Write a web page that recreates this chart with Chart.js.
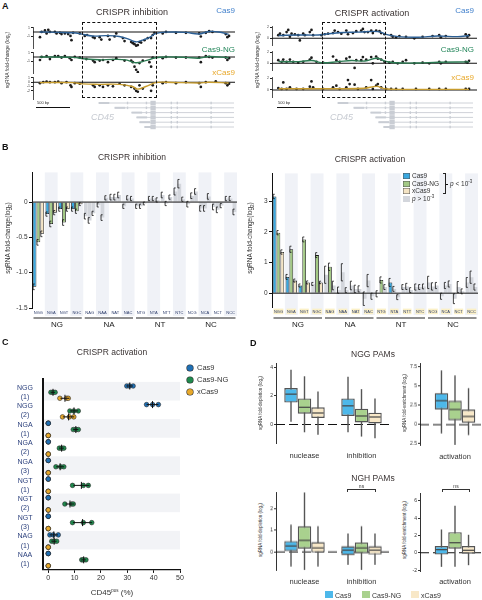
<!DOCTYPE html>
<html>
<head>
<meta charset="utf-8">
<script src="https://cdn.jsdelivr.net/npm/chart.js"></script>
<style>
  html, body { margin: 0; padding: 0; overflow: hidden; background: #fff; }
  body { position: relative; width: 482px; height: 600px; font-family: 'Liberation Sans', Arial, sans-serif; color: #333; }
  canvas { position: absolute; }
  .t { position: absolute; white-space: nowrap; line-height: 1; }
  .dbox { position: absolute; border: 1.2px dashed #111; box-sizing: border-box; }
  .ln { position: absolute; background: #111; }
  .sq { position: absolute; }
</style>
</head>
<body>
<script>
// ---------- Panel A: CD45 tiling screens (position in bp, log2 fold-change) ----------
const inhCas9Pts = [[105,-1.26],[130,0],[180,0.37],[205,-0.37],[230,0.52],[255,0],[330,0],[355,-0.37],[405,-0.22],[430,-0.52],[480,-0.37],[530,-0.52],[565,-0.96],[580,-2.0],[605,-0.22],[705,-0.37],[780,-0.96],[815,-0.74],[905,-1.26],[930,-1.48],[1005,-1.26],[1030,-1.85],[1130,-0.96],[1155,-1.85],[1230,-1.11],[1255,-0.37],[1355,-1.48],[1380,-2.22],[1480,-2.44],[1505,-2.74],[1530,-2.96],[1555,-3.33],[1580,-3.19],[1605,-2.44],[1630,-2.59],[1680,-2.0],[1730,-1.48],[1780,-1.48],[1805,-0.74],[1830,-0.22],[1955,-0.37],[2005,0],[2155,-0.22],[2305,-0.22],[2505,-0.37],[2530,-1.11],[2605,-0.22],[2655,0.22],[2705,0],[2905,-0.52],[2930,-1.26],[2955,-0.96]];
const inhCas9Fit = [[100,0],[400,-0.1],[600,-0.2],[700,-0.4],[900,-1.0],[1100,-0.9],[1300,-1.1],[1450,-1.8],[1550,-2.4],[1650,-2.0],[1750,-1.4],[1850,-0.4],[2000,-0.05],[2300,-0.1],[2500,-0.5],[2650,0.1],[2800,0],[2950,-0.6]];
const inhNGPts = [[105,-0.74],[130,0],[205,0.22],[255,-0.52],[330,0.22],[380,0.22],[430,-0.15],[480,0.22],[555,-0.3],[580,-0.74],[630,0],[705,-0.15],[805,-0.52],[905,-0.89],[930,-1.26],[1005,-0.89],[1055,-0.74],[1130,-1.26],[1205,-0.74],[1255,-0.3],[1380,-0.89],[1480,-0.89],[1505,-1.26],[1530,-2.37],[1555,-3.11],[1580,-3.7],[1605,-1.48],[1655,-0.89],[1755,-1.26],[1780,-2.37],[1805,-0.15],[1955,-0.3],[2005,0],[2155,-0.15],[2305,-0.15],[2505,-0.15],[2530,-1.26],[2605,0.22],[2655,0],[2705,-0.15],[2905,-0.15],[2930,-0.74],[2955,-0.3]];
const inhNGFit = [[100,0],[600,-0.1],[800,-0.5],[1000,-0.7],[1200,-0.6],[1400,-0.7],[1550,-1.4],[1700,-0.9],[1850,-0.2],[2000,0],[2300,-0.1],[2500,-0.3],[2650,0.1],[2950,-0.2]];
const inhXPts = [[105,-0.22],[155,0],[205,0.15],[255,0],[330,0],[380,0.15],[430,-0.22],[505,0],[565,-0.74],[580,-1.11],[630,-0.22],[705,-0.37],[905,-0.74],[930,-1.11],[1005,-0.74],[1055,-1.11],[1130,-0.74],[1205,-0.96],[1305,-0.37],[1380,-0.74],[1480,-1.11],[1530,-1.48],[1555,-2.0],[1580,-2.22],[1605,-0.74],[1655,-1.48],[1780,-2.0],[1805,-0.74],[1955,-0.22],[2005,0],[2155,-0.22],[2305,0],[2505,-0.22],[2530,-1.11],[2605,0],[2755,0.22],[2905,-0.22],[2930,-0.74],[2955,-0.37]];
const inhXFit = [[100,-0.1],[600,-0.1],[750,-0.4],[1000,-0.5],[1300,-0.5],[1500,-1.0],[1580,-1.6],[1700,-1.0],[1850,-0.1],[2000,0],[2500,-0.2],[2650,0],[2950,-0.2]];

const actCas9Pts = [[95,0.56],[120,0.83],[170,0.56],[220,1.11],[245,1.5],[270,0.28],[295,0.83],[345,0.72],[395,0.56],[420,-0.39],[470,0.83],[495,0.56],[570,1.11],[595,1.5],[620,0.56],[745,0.56],[795,0.72],[845,0.83],[920,0.94],[945,1.39],[995,1.11],[1045,0.83],[1120,1.39],[1145,0.72],[1220,0.94],[1270,1.28],[1345,1.39],[1370,1.67],[1395,1.11],[1445,1.11],[1495,1.39],[1520,0.94],[1570,1.39],[1620,1.28],[1645,0.94],[1695,0.72],[1795,0.56],[1820,0.28],[1870,0.17],[1920,0.39],[2020,0.28],[2145,0],[2270,0.28],[2420,0.39],[2520,0.56],[2545,0.17],[2620,0.39],[2920,0.72],[2945,0.28],[2970,0.56]];
const actCas9Fit = [[100,0.5],[400,0.6],[700,0.6],[1000,1.0],[1300,1.1],[1600,1.2],[1750,0.6],[1900,0.3],[2200,0.2],[2500,0.4],[2800,0.3],[2970,0.5]];
const actNGPts = [[95,0.56],[145,0.28],[170,0.67],[220,0.28],[270,0.67],[320,0.28],[395,0.11],[470,0.28],[570,0.67],[595,1.0],[670,0.28],[770,0.11],[920,1.22],[970,0.56],[1020,0.28],[1120,0.83],[1170,1.11],[1245,-0.83],[1270,0.56],[1345,0.56],[1370,1.11],[1420,0.67],[1495,1.11],[1520,0],[1570,1.22],[1595,0.83],[1645,0.67],[1695,0.28],[1770,0.11],[1820,0.28],[1895,0],[1970,0.28],[2020,0.56],[2145,0],[2270,0.11],[2370,0],[2520,0.28],[2545,0],[2620,0.28],[2920,0.28],[2945,0.11],[2970,0.44]];
const actNGFit = [[100,0.3],[400,0.3],[600,0.5],[750,0.1],[1000,0.3],[1200,0.5],[1400,0.4],[1580,0.9],[1700,0.4],[1850,0.1],[2200,0.05],[2500,0.2],[2970,0.25]];
const actXPts = [[95,0.33],[145,0.17],[170,1.28],[220,0.17],[270,0.44],[370,0.17],[470,0.17],[570,0.56],[595,1.44],[620,0.44],[770,0.17],[920,0.44],[970,0.72],[1020,0.17],[1120,0.44],[1145,1.67],[1170,1.0],[1245,0.89],[1295,0.17],[1420,0.44],[1495,1.67],[1520,0.17],[1570,0.72],[1595,1.0],[1645,0.44],[1720,0.17],[1795,0.17],[1870,0.17],[1970,0.17],[2170,0.17],[2370,0.17],[2520,0.17],[2620,0.17],[2920,0.17],[2970,0.17]];
const actXFit = [[100,0.2],[600,0.2],[1000,0.2],[1400,0.3],[1580,0.6],[1700,0.2],[2000,0.1],[2970,0.1]];

const inhTicksA = [1, 0, -1, -2];
const actTicksA = [2, 1, 0, -1];

// CD45 gene model (bp)
const geneTxStart = [990, 1230, 1485, 1560, 1605, 1680];
const geneTxEnd = 3030;
const geneFirstExon = 160;
const geneExons = [1425, 1710, 2085, 2175, 2685];
const geneBlock = [1770, 1850];

// ---------- Panel B: PAM bar charts ----------
const pams = ['NGG','NGA','NGT','NGC','NAG','NAA','NAT','NAC','NTG','NTA','NTT','NTC','NCG','NCA','NCT','NCC'];
const pamGroups = ['NG', 'NA', 'NT', 'NC'];

const inhCas9 = [-1.2,-0.17,-0.1,-0.1,-0.2,-0.04,0.07,-0.06,-0.06,0.05,0.1,0.15,-0.03,-0.09,-0.07,0.05];
const inhNG   = [-0.57,-0.31,-0.29,-0.13,-0.26,-0.22,0.07,0.06,-0.06,0.05,-0.02,0.26,0.09,-0.09,-0.11,0.05];
const inhX    = [-0.45,-0.15,-0.1,-0.03,-0.16,0.06,0.1,0.05,-0.02,0.03,0.07,0.04,0.15,0.08,-0.05,-0.14];
const inhCas9Err = [0.04,0.03,0.03,0.03,0.04,0.03,0.04,0.03,0.03,0.03,0.04,0.05,0.04,0.04,0.04,0.03];
const inhNGErr   = [0.04,0.04,0.04,0.03,0.04,0.04,0.04,0.03,0.03,0.03,0.03,0.06,0.04,0.04,0.04,0.03];
const inhXErr    = [0.04,0.03,0.03,0.02,0.03,0.03,0.04,0.03,0.02,0.03,0.03,0.03,0.04,0.04,0.03,0.04];
const inhCas9Sig = [1,1,1,1,0,0,0,0,0,0,0,0,0,0,0,0];
const inhNGSig   = [1,1,1,1,0,0,0,0,0,0,0,0,0,0,0,0];
const inhXSig    = [1,1,1,1,0,0,0,0,0,0,0,0,0,0,0,0];

const actCas9 = [3.15,0.53,0.25,0.3,0.6,0.1,0.25,-0.18,-0.02,0.35,0.2,0.2,0.35,-0.1,-0.18,0.35];
const actNG   = [1.97,1.43,1.75,1.24,0.86,0.68,0.14,0.41,0.43,0.14,0.22,0.2,0.22,0.25,0.2,0.52];
const actX    = [1.34,0.41,0.35,0.35,0.25,0.1,0.14,-0.1,0.2,-0.13,0.1,0.22,0.25,0.3,0.06,0.2];
const actCas9Err = [0.07,0.08,0.05,0.05,0.28,0.1,0.14,0.22,0.1,0.13,0.08,0.1,0.2,0.1,0.16,0.16];
const actNGErr   = [0.07,0.1,0.08,0.08,0.12,0.28,0.12,0.2,0.1,0.08,0.1,0.08,0.12,0.1,0.18,0.2];
const actXErr    = [0.07,0.05,0.05,0.04,0.14,0.08,0.1,0.1,0.08,0.08,0.08,0.08,0.1,0.1,0.08,0.1];
const actCas9Sig = [1,1,1,0,0,0,0,0,0,1,0,0,0,0,0,0];
const actNGSig   = [1,1,1,1,1,0,0,0,1,0,0,0,0,0,0,0];
const actXSig    = [1,1,1,1,0,0,0,0,0,0,0,0,0,0,0,0];

const inhTicksB = [-1.5, -1.0, -0.5, 0];
const actTicksB = [0, 1, 2, 3];

// ---------- Panel C: CD45 activation by individual sgRNAs (% CD45 pos) ----------
const cRows = [['NGG','(1)'],['NGG','(2)'],['NGA','(1)'],['NGA','(2)'],['NGA','(3)'],['NGT','(1)'],['NGT','(2)'],['NGT','(3)'],['NAG','(1)'],['NAA','(1)']];
const cCas9 = [[29.8,30.8,32.2],[37.3,39.6,41.8],[0,0,0],[0,0,0],[0,0,0],[0,0,0],[0,0,0],[0,0,0],[0.6,1.9,3.8],[0,0,0]];
const cNG   = [[1,1.8,2.6],[8.2,9.7,11.4],[9.5,10.5,11.4],[4.2,5.1,5.9],[2.9,4.7,5.9],[9.2,13.3,15.2],[6.3,8.9,9.5],[9.2,13.3,16.5],[1.3,2.2,3.2],[12.7,13.3,14.3]];
const cX    = [[4.4,7,7.6],[5.4,8,9.7],[0,0,0],[0,0,0],[0,0,0],[0,0,0],[0,0,0],[0,0,0],[0,0,0],[0,0,0]];
const cTicks = [0, 10, 20, 30, 40, 50];

// ---------- Panel D: box plots [min, q1, median, q3, max] ----------
const dGroups = ['nuclease', 'inhibition'];
const dGroupAct = ['activation'];
const nggDepCas9 = [[0.18,1.53,2.12,2.55,3.83],[-0.55,0.59,1.3,1.82,3.33]];
const nggDepNG   = [[-0.55,0.75,1.2,1.82,3.37],[-0.85,0.14,0.59,1.1,2.47]];
const nggDepX    = [[-0.73,0.45,0.8,1.2,2.3],[-0.96,0.07,0.52,0.82,1.82]];
const nggEnrCas9 = [[-1.15,1.96,3.1,4.1,7.04]];
const nggEnrNG   = [[-2.65,0.55,1.96,3.1,6.4]];
const nggEnrX    = [[-1.37,0.25,1.06,1.96,4.74]];
const nghDepCas9 = [[-0.68,0.03,0.27,0.5,1.25],[-0.6,-0.15,0.08,0.26,0.85]];
const nghDepNG   = [[-0.83,0.15,0.53,1.18,2.73],[-0.83,-0.07,0.18,0.43,1.18]];
const nghDepX    = [[-0.68,-0.03,0.18,0.45,1.18],[-0.6,-0.12,0.08,0.26,0.85]];
const nghEnrCas9 = [[-1.62,-0.2,0.36,0.78,2.69]];
const nghEnrNG   = [[-1.62,0.47,1.16,2.38,5.43]];
const nghEnrX    = [[-1.43,-0.1,0.29,0.78,2.08]];
const dTicksNggDep = [0, 2, 4];
const dTicksNggEnr = [-2.5, 0, 2.5, 5, 7.5];
const dTicksNghDep = [0, 1, 2];
const dTicksNghEnr = [-2, 0, 2, 4, 6];

// ---------- colours ----------
const colA = { cas9: '#2c5f94', ng: '#2b7a52', x: '#c79c2e' };
const colLabA = { cas9: '#3f7fcb', ng: '#23865a', x: '#e8a82a' };
const colB = { cas9: '#3aa8df', ng: '#a3c985', x: '#f4e4c4', gray: '#d3d6dc' };
const colC = { cas9: '#2070b4', ng: '#1f8a4d', x: '#e8a92b' };
const colD = { cas9: '#4db8ea', ng: '#a9d18e', x: '#f8e8c8' };

Chart.defaults.font.family = "'Liberation Sans', Arial, sans-serif";
Chart.defaults.color = '#333';
Chart.defaults.plugins.legend.display = false;
Chart.defaults.plugins.tooltip.enabled = false;

// place a chart so that its chart area lands on [x0,y0,x1,y1] of the page
function place(area, pad, cfg) {
  const [x0, y0, x1, y1] = area.map(Math.round);
  const w = x1 - x0 + pad[0] + pad[2];
  const h = y1 - y0 + pad[1] + pad[3];
  const cv = document.createElement('canvas');
  cv.width = w; cv.height = h;
  cv.style.left = (x0 - pad[0]) + 'px';
  cv.style.top = (y0 - pad[1]) + 'px';
  cv.style.width = w + 'px';
  cv.style.height = h + 'px';
  document.body.appendChild(cv);
  const o = cfg.options;
  o.responsive = false; o.animation = false; o.devicePixelRatio = 1; o.events = [];
  const xs = o.scales.x, ys = o.scales.y;
  o.layout = { padding: {
    left: ys.display === false ? pad[0] : 0, top: pad[1], right: pad[2],
    bottom: xs.display === false ? pad[3] : 0 } };
  if (xs.display !== false) xs.afterFit = s => { s.height = pad[3]; };
  if (ys.display !== false) ys.afterFit = s => { s.width = pad[0]; };
  return new Chart(cv, cfg);
}

function txt(html, x, y, css, anchor, rot) {
  const d = document.createElement('div');
  d.className = 't';
  d.innerHTML = html;
  d.style.cssText = `left:${x}px;top:${y}px;` + (css || '');
  const tx = { l: '0', c: '-50%', r: '-100%' }[anchor || 'l'];
  d.style.transform = `translate(${tx},-50%)` + (rot ? ' rotate(-90deg)' : '');
  document.body.appendChild(d);
}
function el(cls, x, y, w, h, css) {
  const d = document.createElement('div');
  d.className = cls;
  d.style.cssText = `left:${x}px;top:${y}px;width:${w}px;height:${h}px;` + (css || '');
  document.body.appendChild(d);
}
const fixTicks = arr => s => { s.ticks = arr.map(v => ({ value: v })); };

// horizontal line at y = 0
function zeroLine(dash, width, after) {
  const draw = c => {
    const ctx = c.ctx, a = c.chartArea, y = c.scales.y.getPixelForValue(0);
    ctx.save();
    ctx.strokeStyle = '#111'; ctx.lineWidth = width; ctx.setLineDash(dash);
    ctx.beginPath(); ctx.moveTo(a.left, y); ctx.lineTo(a.right, y); ctx.stroke();
    ctx.restore();
  };
  return after ? { id: 'zeroA', afterDatasetsDraw: draw } : { id: 'zeroB', beforeDatasetsDraw: draw };
}

// ---------- Panel A ----------
const genePlugin = {
  id: 'gene',
  afterDraw(c) {
    const ctx = c.ctx, x = c.scales.x;
    const top = 103 - parseFloat(c.canvas.style.top);
    const px = v => x.getPixelForValue(v);
    ctx.save();
    ctx.fillStyle = ctx.strokeStyle = '#c9cdd4';
    geneTxStart.forEach((s, i) => {
      const y = top + i * 4.8;
      ctx.lineWidth = 0.9;
      ctx.beginPath(); ctx.moveTo(px(s), y); ctx.lineTo(px(geneTxEnd), y); ctx.stroke();
      ctx.fillRect(px(s), y - 1, px(s + geneFirstExon) - px(s), 2);
      geneExons.filter(e => e > s + geneFirstExon).forEach(e => ctx.fillRect(px(e) - 0.7, y - 1.3, 1.4, 2.6));
      ctx.fillRect(px(geneBlock[0]), y - 2.2, px(geneBlock[1]) - px(geneBlock[0]), 4.4);
    });
    ctx.restore();
  }
};

function rowChart(area, padB, pts, fit, color, yMin, yMax, ticks, xMax, extra) {
  return place(area, [10, 3, 3, padB], {
    type: 'scatter',
    data: { datasets: [
      { data: fit, showLine: true, borderColor: color, borderWidth: 1.4, pointRadius: 0, tension: 0.4, order: 0 },
      { data: pts, pointRadius: 1.35, backgroundColor: '#1b1b1b', borderWidth: 0, order: 1 }
    ] },
    options: {
      scales: {
        x: { type: 'linear', display: false, min: 0, max: xMax },
        y: { type: 'linear', min: yMin, max: yMax, afterBuildTicks: fixTicks(ticks),
             border: { color: '#222', width: 0.8 },
             grid: { drawOnChartArea: false, tickLength: 2, color: '#222' },
             ticks: { font: { size: 3.5 }, padding: 1, color: '#444' } }
      }
    },
    plugins: [zeroLine([], 1.1, false)].concat(extra || [])
  });
}

// left (inhibition): 4.5 px per log2 unit
rowChart([33, 26.3, 236, 49.2], 3, inhCas9Pts, inhCas9Fit, colA.cas9, -3.9, 1.2, inhTicksA, 3045);
rowChart([33, 50.6, 236, 73.6], 3, inhNGPts, inhNGFit, colA.ng, -3.9, 1.2, inhTicksA, 3045);
rowChart([33, 76.3, 236, 99.3], 34, inhXPts, inhXFit, colA.x, -3.9, 1.2, inhTicksA, 3045, [genePlugin]);
// right (activation): 6 px per log2 unit
rowChart([272, 25.3, 478, 45.7], 3, actCas9Pts, actCas9Fit, colA.cas9, -1.2, 2.2, actTicksA, 3090);
rowChart([272, 50.1, 478, 70.5], 3, actNGPts, actNGFit, colA.ng, -1.2, 2.2, actTicksA, 3090);
rowChart([272, 76.1, 478, 96.5], 36, actXPts, actXFit, colA.x, -1.2, 2.2, actTicksA, 3090, [genePlugin]);

txt('A', 2, 6, 'font-size:9px;font-weight:bold;color:#111;');
txt('CRISPR inhibition', 132, 12, 'font-size:9px;color:#3a3333;', 'c');
txt('CRISPR activation', 372, 13, 'font-size:9px;color:#3a3333;', 'c');
txt('Cas9', 235, 11, `font-size:8px;color:${colLabA.cas9};`, 'r');
txt('Cas9-NG', 235, 50, `font-size:8px;color:${colLabA.ng};`, 'r');
txt('xCas9', 235, 73, `font-size:8px;color:${colLabA.x};`, 'r');
txt('Cas9', 474, 11, `font-size:8px;color:${colLabA.cas9};`, 'r');
txt('Cas9-NG', 474, 50, `font-size:8px;color:${colLabA.ng};`, 'r');
txt('xCas9', 474, 78, `font-size:8px;color:${colLabA.x};`, 'r');
txt('sgRNA fold-change (log<sub style="font-size:3.5px">2</sub>)', 9, 60, 'font-size:5px;color:#333;', 'c', true);
txt('sgRNA fold-change (log<sub style="font-size:3.5px">2</sub>)', 259, 60, 'font-size:5px;color:#333;', 'c', true);
el('dbox', 82, 22, 75, 76);
el('dbox', 322, 22, 64, 76);
el('ln', 36, 107, 34, 1.2);
el('ln', 277, 107, 34, 1.2);
txt('500 bp', 37, 103, 'font-size:4px;color:#333;');
txt('500 bp', 278, 103, 'font-size:4px;color:#333;');
txt('CD45', 91, 117, 'font-size:9px;font-style:italic;color:#c6cad1;');
txt('CD45', 330, 117, 'font-size:9px;font-style:italic;color:#c6cad1;');

// ---------- Panel B ----------
const bandsB = {
  id: 'bandsB',
  beforeDraw(c) {
    const ctx = c.ctx, a = c.chartArea, x = c.scales.x;
    const cw = (a.right - a.left) / pams.length;
    ctx.save(); ctx.fillStyle = '#f0f2f7';
    pams.forEach((p, i) => { if (i % 2) ctx.fillRect(x.getPixelForValue(i) - cw / 2, a.top, cw, a.bottom - a.top + 8); });
    ctx.restore();
  }
};
const errBars = {
  id: 'errBars',
  afterDatasetsDraw(c) {
    const ctx = c.ctx, y = c.scales.y;
    ctx.save(); ctx.strokeStyle = '#111'; ctx.lineWidth = 0.8;
    c.data.datasets.forEach((ds, di) => {
      c.getDatasetMeta(di).data.forEach((bar, i) => {
        const v = ds.data[i], e = ds.err[i];
        const ya = y.getPixelForValue(v - e), yb = y.getPixelForValue(v + e);
        const xl = bar.x - bar.width / 2 + 0.4;
        ctx.beginPath();
        ctx.moveTo(xl + 1.6, ya); ctx.lineTo(xl, ya); ctx.lineTo(xl, yb); ctx.lineTo(xl + 1.6, yb);
        ctx.stroke();
      });
    });
    ctx.restore();
  }
};
const groupLines = {
  id: 'groupLines',
  afterDraw(c) {
    const ctx = c.ctx, a = c.chartArea, x = c.scales.x;
    const cw = (a.right - a.left) / pams.length;
    const y = 318 - parseFloat(c.canvas.style.top);
    ctx.save(); ctx.strokeStyle = '#222'; ctx.lineWidth = 1.1;
    pamGroups.forEach((g, k) => {
      const l = x.getPixelForValue(k * 4) - cw / 2 + 1.5, r = x.getPixelForValue(k * 4 + 3) + cw / 2 - 1.5;
      ctx.beginPath(); ctx.moveTo(l, y); ctx.lineTo(r, y); ctx.stroke();
    });
    ctx.restore();
  }
};

function pamChart(area, series, yMin, yMax, ticks, fmt, backdrop) {
  return place(area, [32, 4, 4, 16], {
    type: 'bar',
    data: {
      labels: pams,
      datasets: series.map(s => ({
        data: s.v, err: s.e,
        backgroundColor: s.v.map((_, i) => s.sig[i] ? s.col : colB.gray),
        borderColor: '#111',
        borderWidth: s.v.map((_, i) => s.sig[i] ? 0.8 : 0),
        categoryPercentage: 0.9, barPercentage: 0.96
      }))
    },
    options: {
      scales: {
        x: { grid: { display: false, drawTicks: false }, border: { display: false },
             ticks: { font: { size: 4 }, padding: 2, color: '#2b3b6a', autoSkip: false, maxRotation: 0,
                      showLabelBackdrop: backdrop, backdropColor: '#fbf0c6', backdropPadding: 0.4 } },
        y: { min: yMin, max: yMax, afterBuildTicks: fixTicks(ticks),
             border: { color: '#111', width: 1 },
             grid: { drawOnChartArea: false, tickLength: 3, color: '#111' },
             ticks: { font: { size: 6.5 }, padding: 1.5, color: '#333', callback: fmt } }
      }
    },
    plugins: [bandsB, zeroLine([], 1, true), errBars, groupLines]
  });
}

pamChart([32, 171, 237, 307.7], [
  { v: inhCas9, e: inhCas9Err, sig: inhCas9Sig, col: colB.cas9 },
  { v: inhNG, e: inhNGErr, sig: inhNGSig, col: colB.ng },
  { v: inhX, e: inhXErr, sig: inhXSig, col: colB.x }
], -1.5, 0.42, inhTicksB, v => v === 0 ? '0' : v.toFixed(1), false);

pamChart([272, 172, 478, 306.7], [
  { v: actCas9, e: actCas9Err, sig: actCas9Sig, col: colB.cas9 },
  { v: actNG, e: actNGErr, sig: actNGSig, col: colB.ng },
  { v: actX, e: actXErr, sig: actXSig, col: colB.x }
], -0.45, 3.9, actTicksB, v => String(v), true);

txt('B', 2, 147, 'font-size:9px;font-weight:bold;color:#111;');
txt('CRISPR inhibition', 132, 157, 'font-size:8.5px;color:#3a3333;', 'c');
txt('CRISPR activation', 370, 159, 'font-size:8.5px;color:#3a3333;', 'c');
txt('sgRNA fold-change(log<sub style="font-size:4.5px">2</sub>)', 9, 238, 'font-size:6.5px;color:#333;', 'c', true);
txt('sgRNA fold-change(log<sub style="font-size:4.5px">2</sub>)', 251, 238, 'font-size:6.5px;color:#333;', 'c', true);
[[57, 109, 160, 211], [298, 350, 401, 453]].forEach(xs => {
  pamGroups.forEach((g, k) => txt(g, xs[k], 325, 'font-size:8px;color:#222;', 'c'));
});
// legend of panel B (activation)
[[colB.cas9, 'Cas9', 176], [colB.ng, 'Cas9-NG', 183.5], [colB.x, 'xCas9', 191], [colB.gray, '<i>p</i> &gt; 10<sup style="font-size:4.5px">-3</sup>', 198.5]]
  .forEach(([c, l, y], i) => {
    el('sq', 403, y - 3, 7, 6, `background:${c};` + (i < 3 ? 'box-shadow:inset 0 0 0 0.5px #555;' : ''));
    txt(l, 412, y, 'font-size:6.5px;color:#333;');
  });
el('sq', 443, 173, 3, 21, 'border:0.8px solid #222;border-left:none;box-sizing:border-box;');
el('ln', 446, 183.5, 2, 0.8);
txt('<i>p</i> &lt; 10<sup style="font-size:4.5px">-3</sup>', 450, 184, 'font-size:6.5px;color:#333;');

// ---------- Panel C ----------
const cOff = [0.22, 0.56, 0.88];
const bandsC = {
  id: 'bandsC',
  beforeDraw(c) {
    const ctx = c.ctx, a = c.chartArea, y = c.scales.y;
    ctx.save(); ctx.fillStyle = '#f2f3f6';
    cRows.forEach((r, i) => {
      if (i % 2 === 0) { const t = y.getPixelForValue(i); ctx.fillRect(a.left, t, a.right - a.left, y.getPixelForValue(i + 1) - t); }
    });
    ctx.restore();
  }
};
const meanSD = {
  id: 'meanSD',
  afterDatasetsDraw(c) {
    const ctx = c.ctx, x = c.scales.x, y = c.scales.y;
    ctx.save(); ctx.strokeStyle = '#111'; ctx.lineWidth = 1;
    [cCas9, cNG, cX].forEach((ser, k) => {
      ser.forEach((reps, i) => {
        const m = reps.reduce((s, v) => s + v, 0) / reps.length;
        const sd = Math.sqrt(reps.reduce((s, v) => s + (v - m) ** 2, 0) / (reps.length - 1));
        if (sd === 0) return;
        const yy = y.getPixelForValue(i + cOff[k]);
        ctx.beginPath();
        ctx.moveTo(x.getPixelForValue(m - sd), yy); ctx.lineTo(x.getPixelForValue(m + sd), yy);
        ctx.moveTo(x.getPixelForValue(m), yy - 3.5); ctx.lineTo(x.getPixelForValue(m), yy + 3.5);
        ctx.stroke();
      });
    });
    ctx.restore();
  }
};
place([43, 362.9, 180, 575], [43, 3, 8, 14], {
  type: 'scatter',
  data: { datasets: [[cCas9, colC.cas9], [cNG, colC.ng], [cX, colC.x]].map(([ser, col], k) => ({
    data: ser.flatMap((reps, i) => reps.map(v => ({ x: v, y: i + cOff[k] }))),
    backgroundColor: col, borderColor: '#2a2a2a', borderWidth: 0.6, pointRadius: 2.3
  })) },
  options: {
    scales: {
      x: { type: 'linear', min: -2, max: 50, afterBuildTicks: fixTicks(cTicks),
           border: { color: '#111', width: 1.3 },
           grid: { drawOnChartArea: false, tickLength: 3, color: '#111' },
           ticks: { font: { size: 7 }, padding: 1, color: '#333' } },
      y: { type: 'linear', reverse: true, min: -0.15, max: 10.1,
           afterBuildTicks: s => { s.ticks = cRows.map((r, i) => ({ value: i + 0.55 })); },
           border: { color: '#111', width: 2 },
           grid: { display: false, drawTicks: false },
           ticks: { callback: (v, i) => cRows[i], font: { size: 7, lineHeight: 1.3 }, color: '#2a3f7c',
                    crossAlign: 'center', padding: 10 } }
    }
  },
  plugins: [bandsC, meanSD]
});
txt('C', 2, 342, 'font-size:9px;font-weight:bold;color:#111;');
txt('CRISPR activation', 112, 352, 'font-size:8.5px;color:#3a3333;', 'c');
txt('CD45<sup style="font-size:4.5px">pos</sup> (%)', 112, 593, 'font-size:8px;color:#333;', 'c');
[[colC.cas9, 'Cas9', 368], [colC.ng, 'Cas9-NG', 380], [colC.x, 'xCas9', 392]].forEach(([c, l, y]) => {
  el('sq', 187, y - 3.2, 6.4, 6.4, `background:${c};border-radius:50%;box-shadow:0 0 0 0.6px #2a2a2a;`);
  txt(l, 197, y, 'font-size:7.5px;color:#333;');
});

// ---------- Panel D ----------
const whiskers = {
  id: 'whiskers',
  beforeDatasetsDraw(c) {
    const ctx = c.ctx, y = c.scales.y;
    ctx.save(); ctx.strokeStyle = '#555'; ctx.lineWidth = 1.4;
    c.data.datasets.forEach((ds, di) => {
      c.getDatasetMeta(di).data.forEach((bar, i) => {
        const s = ds.stats[i];
        ctx.beginPath();
        ctx.moveTo(bar.x, y.getPixelForValue(s[4])); ctx.lineTo(bar.x, y.getPixelForValue(s[0]));
        ctx.stroke();
      });
    });
    ctx.restore();
  },
  afterDatasetsDraw(c) {
    const ctx = c.ctx, y = c.scales.y;
    ctx.save(); ctx.strokeStyle = '#444'; ctx.lineWidth = 1.2;
    c.data.datasets.forEach((ds, di) => {
      c.getDatasetMeta(di).data.forEach((bar, i) => {
        const m = y.getPixelForValue(ds.stats[i][2]), h = bar.width / 2 - 1;
        ctx.beginPath(); ctx.moveTo(bar.x - h, m); ctx.lineTo(bar.x + h, m); ctx.stroke();
      });
    });
    ctx.restore();
  }
};
function boxChart(area, labels, series, yMin, yMax, ticks, catPct, lblPad) {
  return place(area, [10, 3, 3, lblPad + 10], {
    type: 'bar',
    data: { labels, datasets: series.map(([st, col]) => ({
      data: st.map(q => [q[1], q[3]]), stats: st,
      backgroundColor: col, borderColor: '#555', borderWidth: 1.4, borderSkipped: false,
      categoryPercentage: catPct, barPercentage: 1
    })) },
    options: {
      scales: {
        x: { grid: { display: false, drawTicks: false }, border: { display: false },
             ticks: { font: { size: 7.5 }, padding: lblPad, color: '#333', autoSkip: false, maxRotation: 0 } },
        y: { min: yMin, max: yMax, afterBuildTicks: fixTicks(ticks),
             border: { color: '#333', width: 1 },
             grid: { drawOnChartArea: false, tickLength: 2, color: '#333' },
             ticks: { font: { size: 5 }, padding: 1, color: '#333' } }
      }
    },
    plugins: [zeroLine([9, 4], 1.1, false), whiskers]
  });
}
boxChart([276, 361.5, 390, 443.3], dGroups, [[nggDepCas9, colD.cas9], [nggDepNG, colD.ng], [nggDepX, colD.x]],
  -1.3, 4.3, dTicksNggDep, 0.71, 8);
boxChart([420, 361.8, 490, 445.4], dGroupAct, [[nggEnrCas9, colD.cas9], [nggEnrNG, colD.ng], [nggEnrX, colD.x]],
  -2.7, 8, dTicksNggEnr, 0.58, 6.5);
boxChart([276, 491.2, 390, 570.4], dGroups, [[nghDepCas9, colD.cas9], [nghDepNG, colD.ng], [nghDepX, colD.x]],
  -0.85, 2.75, dTicksNghDep, 0.71, 6.5);
boxChart([420, 492.1, 490, 570.9], dGroupAct, [[nghEnrCas9, colD.cas9], [nghEnrNG, colD.ng], [nghEnrX, colD.x]],
  -2.1, 6.9, dTicksNghEnr, 0.58, 6);

txt('D', 250, 343, 'font-size:9px;font-weight:bold;color:#111;');
txt('NGG PAMs', 373, 354, 'font-size:8.5px;color:#3a3333;', 'c');
txt('NGH PAMs', 373, 478, 'font-size:8.5px;color:#3a3333;', 'c');
txt('sgRNA fold-depletion (log<sub style="font-size:3px">2</sub>)', 262, 403, 'font-size:4.5px;color:#333;', 'c', true);
txt('sgRNA fold-enrichment (log<sub style="font-size:3px">2</sub>)', 406, 403, 'font-size:4.5px;color:#333;', 'c', true);
txt('sgRNA fold-depletion (log<sub style="font-size:3px">2</sub>)', 262, 530, 'font-size:4.5px;color:#333;', 'c', true);
txt('sgRNA fold-enrichment (log<sub style="font-size:3px">2</sub>)', 406, 530, 'font-size:4.5px;color:#333;', 'c', true);
[[347, 29], [442, 28]].forEach(([x, w]) => {
  el('sq', x, 489, w, 2.5, 'border:0.8px solid #333;border-bottom:none;box-sizing:border-box;');
  txt('ns', x + w / 2, 485.5, 'font-size:5px;color:#333;', 'c');
});
[[colD.cas9, 'Cas9', 325], [colD.ng, 'Cas9-NG', 362], [colD.x, 'xCas9', 411]].forEach(([c, l, x]) => {
  el('sq', x, 591, 8, 7, `background:${c};`);
  txt(l, x + 10, 595, 'font-size:7px;color:#333;');
});
</script>
</body>
</html>
